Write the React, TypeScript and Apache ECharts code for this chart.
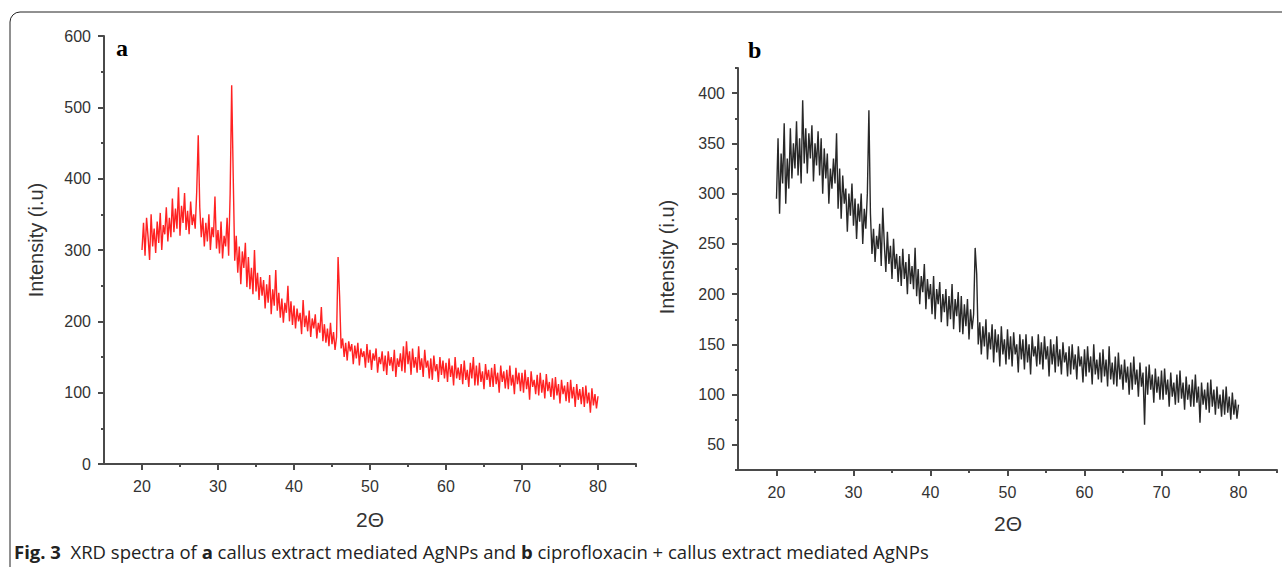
import React, { useEffect, useRef } from "react";
import * as echarts from "echarts";

// ---- data ----
const ANGLE_START = 20;
const ANGLE_STEP = 0.2;

const X_MIN = 15;
const X_MAX = 85;
const X_MAJOR = [20, 30, 40, 50, 60, 70, 80];
const X_MINOR = [25, 35, 45, 55, 65, 75, 85];

const YA_MIN = 0;
const YA_MAX = 600;
const YA_MAJOR = [0, 100, 200, 300, 400, 500, 600];
const YA_MINOR = [50, 150, 250, 350, 450, 550];

const YB_MIN = 25;
const YB_MAX = 425;
const YB_MAJOR = [50, 100, 150, 200, 250, 300, 350, 400];
const YB_MINOR = [25, 75, 125, 175, 225, 275, 325, 375, 425];

// panel a: callus extract mediated AgNPs (2θ = 20 … 80, step 0.2)
const intensityA = [
  300, 338, 292, 345, 318, 286, 350, 305, 330, 296,
  340, 310, 352, 300, 335, 322, 360, 312, 345, 318,
  372, 325, 358, 330, 388, 320, 362, 338, 380, 328,
  355, 322, 368, 335, 350, 330, 382, 461, 360, 318,
  345, 305, 338, 312, 350, 300, 332, 318, 375, 302,
  328, 295, 340, 288, 320, 305, 345, 292, 380, 531,
  405, 285, 320, 268, 305, 252, 298, 275, 310, 248,
  290, 245, 275, 238, 300, 242, 268, 230, 262, 236,
  258, 218, 252, 226, 265, 210, 245, 222, 272, 215,
  240, 205, 232, 198, 226, 212, 250, 200, 228, 195,
  222, 190, 218, 200, 212, 182, 230, 192, 208, 186,
  215, 178, 204, 190, 210, 176, 198, 184, 220, 172,
  196, 170, 190, 165, 198, 168, 185, 160, 178, 290,
  235, 162, 176, 150, 170, 145, 172, 158, 168, 140,
  166, 148, 170, 138, 162, 150, 158, 135, 168, 142,
  160, 132, 155, 145, 162, 128, 150, 140, 158, 130,
  152, 125, 158, 138, 150, 130, 160, 122, 148, 136,
  155, 130, 165, 128, 172, 140, 158, 125, 162, 135,
  150, 128, 165, 132, 148, 122, 160, 135, 145, 120,
  148, 118, 152, 130, 140, 115, 150, 125, 145, 120,
  142, 115, 148, 122, 138, 110, 150, 120, 135, 118,
  140, 112, 145, 118, 132, 108, 142, 120, 150, 110,
  138, 110, 142, 115, 130, 105, 140, 118, 132, 108,
  135, 108, 140, 112, 128, 100, 138, 115, 130, 106,
  132, 105, 138, 110, 125, 98, 135, 112, 128, 102,
  128, 100, 132, 105, 122, 90, 130, 108, 118, 98,
  125, 96, 128, 100, 118, 92, 126, 102, 115, 94,
  120, 90, 122, 96, 112, 85, 118, 98, 110, 88,
  115, 86, 118, 92, 108, 80, 112, 90, 105, 84,
  108, 80, 110, 85, 100, 72, 106, 82, 98, 78,
  95,
];

// panel b: ciprofloxacin + callus extract mediated AgNPs (2θ = 20 … 80, step 0.2)
const intensityB = [
  295, 355, 280, 340, 310, 370, 290, 335, 305, 365,
  315, 350, 325, 372, 318, 355, 310, 393, 330, 365,
  320, 360, 335, 368, 312, 350, 328, 362, 318, 355,
  300, 345, 315, 340, 290, 325, 305, 335, 310, 360,
  285, 325, 275, 318, 290, 305, 262, 300, 278, 310,
  268, 295, 255, 290, 272, 300, 250, 285, 265, 300,
  383, 280, 240, 265, 232, 258, 245, 270, 228, 286,
  250, 222, 262, 230, 248, 215, 255, 225, 240, 212,
  238, 208, 245, 215, 232, 200, 240, 210, 228, 205,
  246, 198, 225, 190, 218, 202, 230, 185, 215, 195,
  210, 180, 218, 175, 205, 190, 212, 172, 200, 182,
  205, 168, 198, 175, 210, 165, 195, 178, 202, 162,
  198, 160, 190, 168, 195, 155, 185, 165, 180, 246,
  220, 150, 172, 140, 168, 148, 175, 135, 162, 145,
  170, 132, 165, 142, 160, 128, 168, 140, 155, 130,
  165, 135, 158, 128, 162, 140, 150, 122, 160, 135,
  155, 125, 160, 132, 150, 120, 158, 138, 148, 128,
  160, 130, 152, 125, 158, 135, 148, 118, 155, 130,
  150, 122, 158, 128, 145, 120, 152, 132, 142, 118,
  148, 120, 150, 125, 140, 115, 148, 128, 138, 112,
  145, 118, 148, 122, 138, 110, 150, 120, 135, 115,
  142, 112, 145, 118, 135, 108, 148, 115, 132, 110,
  138, 108, 142, 115, 130, 105, 135, 112, 128, 100,
  132, 105, 138, 110, 125, 98, 132, 108, 122, 70,
  128, 100, 130, 105, 120, 92, 126, 102, 118, 95,
  124, 95, 126, 100, 115, 88, 122, 98, 112, 90,
  120, 92, 124, 96, 112, 85, 118, 95, 110, 88,
  115, 88, 120, 92, 108, 72, 112, 90, 105, 85,
  112, 82, 115, 88, 105, 80, 108, 86, 100, 78,
  105, 80, 108, 82, 98, 75, 102, 80, 95, 76,
  90,
];

const toPairs = (vals: number[]) =>
  vals.map((v, i) => [Number((ANGLE_START + i * ANGLE_STEP).toFixed(1)), v]);

const AXIS_COLOR = "#4a4a4a";
const LABEL_COLOR = "#333";
const SANS = "'Liberation Sans', Arial, sans-serif";
const SERIF = "'Liberation Serif', 'Times New Roman', serif";
const CAPTION_FONT = "'Open Sans', 'Noto Sans', sans-serif";

function makeXAxes(gridIndex: number) {
  return [
    {
      type: "value",
      gridIndex,
      min: X_MIN,
      max: X_MAX,
      position: "bottom",
      axisLine: { show: true, onZero: false, lineStyle: { color: AXIS_COLOR, width: 2 } },
      axisTick: { show: true, customValues: X_MAJOR, length: 6, lineStyle: { color: AXIS_COLOR, width: 2 } },
      axisLabel: { show: true, customValues: X_MAJOR, margin: 14, color: LABEL_COLOR, fontSize: 16, fontFamily: SANS },
      splitLine: { show: false },
    },
    {
      type: "value",
      gridIndex,
      min: X_MIN,
      max: X_MAX,
      position: "bottom",
      axisLine: { show: false, onZero: false },
      axisTick: { show: true, customValues: X_MINOR, length: 3, lineStyle: { color: AXIS_COLOR, width: 2 } },
      axisLabel: { show: false },
      splitLine: { show: false },
    },
  ];
}

function makeYAxes(gridIndex: number, min: number, max: number, major: number[], minor: number[]) {
  return [
    {
      type: "value",
      gridIndex,
      min,
      max,
      position: "left",
      axisLine: { show: true, onZero: false, lineStyle: { color: AXIS_COLOR, width: 2 } },
      axisTick: { show: true, customValues: major, length: 6, lineStyle: { color: AXIS_COLOR, width: 2 } },
      axisLabel: { show: true, customValues: major, margin: 13, color: LABEL_COLOR, fontSize: 16, fontFamily: SANS },
      splitLine: { show: false },
    },
    {
      type: "value",
      gridIndex,
      min,
      max,
      position: "left",
      axisLine: { show: false, onZero: false },
      axisTick: { show: true, customValues: minor, length: 3, lineStyle: { color: AXIS_COLOR, width: 2 } },
      axisLabel: { show: false },
      splitLine: { show: false },
    },
  ];
}

export default function App() {
  const ref = useRef<HTMLDivElement>(null);

  useEffect(() => {
    if (!ref.current) return;
    const chart = echarts.init(ref.current, undefined, { renderer: "svg" });

    const option: any = {
      animation: false,
      backgroundColor: "#ffffff",
      grid: [
        { left: 104, top: 36, width: 532, height: 428 },
        { left: 738, top: 68, width: 539, height: 402 },
      ],
      xAxis: [...makeXAxes(0), ...makeXAxes(1)],
      yAxis: [
        ...makeYAxes(0, YA_MIN, YA_MAX, YA_MAJOR, YA_MINOR),
        ...makeYAxes(1, YB_MIN, YB_MAX, YB_MAJOR, YB_MINOR),
      ],
      series: [
        {
          name: "a",
          type: "line",
          xAxisIndex: 0,
          yAxisIndex: 0,
          data: toPairs(intensityA),
          showSymbol: false,
          symbol: "none",
          lineStyle: { color: "#ff0a0a", width: 1.4, opacity: 0.9 },
          silent: true,
        },
        {
          name: "b",
          type: "line",
          xAxisIndex: 2,
          yAxisIndex: 2,
          data: toPairs(intensityB),
          showSymbol: false,
          symbol: "none",
          lineStyle: { color: "#111111", width: 1.4, opacity: 0.9 },
          silent: true,
        },
      ],
      graphic: [
        {
          type: "rect",
          shape: { x: 10, y: 12, width: 1300, height: 620, r: 10 },
          style: { fill: "none", stroke: "#222", lineWidth: 1 },
          silent: true,
        },
        {
          type: "text",
          x: 116,
          y: 48,
          style: { text: "a", font: `bold 24px ${SERIF}`, fill: "#000", textVerticalAlign: "middle" },
        },
        {
          type: "text",
          x: 748,
          y: 50,
          style: { text: "b", font: `bold 24px ${SERIF}`, fill: "#000", textVerticalAlign: "middle" },
        },
        {
          type: "text",
          x: 36,
          y: 240,
          rotation: Math.PI / 2,
          style: {
            text: "Intensity (i.u)",
            font: `20px ${SANS}`,
            fill: LABEL_COLOR,
            textAlign: "center",
            textVerticalAlign: "middle",
          },
        },
        {
          type: "text",
          x: 667,
          y: 257,
          rotation: Math.PI / 2,
          style: {
            text: "Intensity (i.u)",
            font: `20px ${SANS}`,
            fill: LABEL_COLOR,
            textAlign: "center",
            textVerticalAlign: "middle",
          },
        },
        {
          type: "text",
          x: 370,
          y: 519,
          style: {
            text: "2Θ",
            font: `21px ${SANS}`,
            fill: LABEL_COLOR,
            textAlign: "center",
            textVerticalAlign: "middle",
          },
        },
        {
          type: "text",
          x: 1008,
          y: 523,
          style: {
            text: "2Θ",
            font: `21px ${SANS}`,
            fill: LABEL_COLOR,
            textAlign: "center",
            textVerticalAlign: "middle",
          },
        },
        {
          type: "text",
          x: 14,
          y: 551,
          style: {
            text:
              "{b|Fig. 3}  XRD spectra of {b|a} callus extract mediated AgNPs and {b|b} ciprofloxacin + callus extract mediated AgNPs",
            font: `18.5px ${CAPTION_FONT}`,
            fill: "#222",
            textVerticalAlign: "middle",
            rich: {
              b: { fontWeight: "bold", fontSize: 18.5, fontFamily: CAPTION_FONT, fill: "#222" },
            },
          },
        },
      ],
    };

    chart.setOption(option);
    return () => {
      chart.dispose();
    };
  }, []);

  return (
    <div
      ref={ref}
      style={{ position: "fixed", left: 0, top: 0, width: 1282, height: 567, background: "#fff" }}
    />
  );
}
